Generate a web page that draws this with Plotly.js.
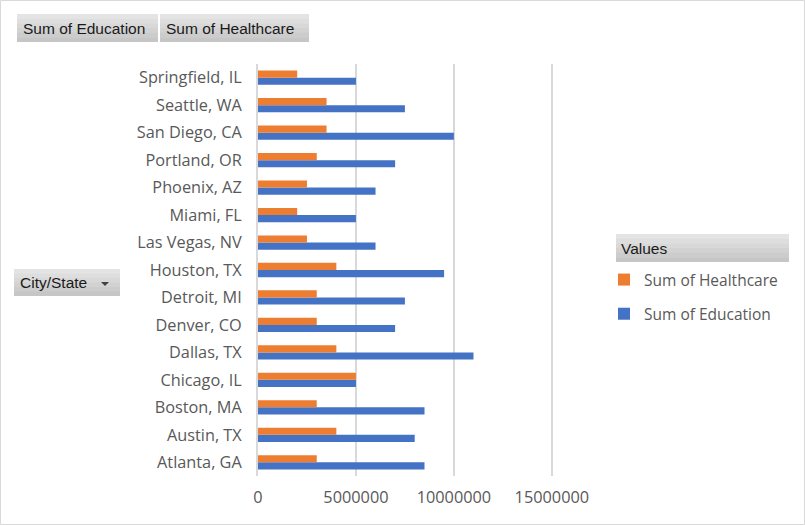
<!DOCTYPE html>
<html>
<head>
<meta charset="utf-8">
<script src="https://cdn.plot.ly/plotly-3.0.1.min.js"></script>
<style>html,body{margin:0;padding:0;background:#fff;}#chart{width:805px;height:525px;}</style>
</head>
<body>
<div id="chart"></div>
<script>
const cities = ["Atlanta, GA","Austin, TX","Boston, MA","Chicago, IL","Dallas, TX","Denver, CO","Detroit, MI","Houston, TX","Las Vegas, NV","Miami, FL","Phoenix, AZ","Portland, OR","San Diego, CA","Seattle, WA","Springfield, IL"];
const education = [8500000,8000000,8500000,5000000,11000000,7000000,7500000,9500000,6000000,5000000,6000000,7000000,10000000,7500000,5000000];
const healthcare = [3000000,4000000,3000000,5000000,4000000,3000000,3000000,4000000,2500000,2000000,2500000,3000000,3500000,3500000,2000000];
const xTicks = [0,5000000,10000000,15000000];
const xTickText = ["0","5000000","10000000","15000000"];

const W = 805, H = 525;
const M = {l:258, r:252, t:64, b:49, autoexpand:false};
const PW = W - M.l - M.r, PH = H - M.t - M.b;
const fx = px => (px - M.l) / PW;
const fy = py => 1 - (py - M.t) / PH;
const FONT = "Open Sans, Liberation Sans, Arial, sans-serif";
const BFONT = "Liberation Sans, Arial, sans-serif";

const shapes = [];
const annotations = [];
function button(x0, y0, x1, y1, text, tx) {
  const bands = ["#e4e4e4","#dedede","#d8d8d8","#d2d2d2","#cccccc","#c6c6c6"];
  const h = (y1 - y0) / bands.length;
  bands.forEach((c, i) => {
    shapes.push({type:"rect", xref:"paper", yref:"paper", layer:"above",
      x0:fx(x0), x1:fx(x1), y0:fy(y0 + i*h), y1:fy(Math.min(y1, y0 + (i+1)*h + 0.5)),
      fillcolor:c, line:{width:0}});
  });
  annotations.push({xref:"paper", yref:"paper", x:fx(tx), y:fy((y0+y1)/2),
    xanchor:"left", yanchor:"middle", showarrow:false, text:text,
    font:{family:BFONT, size:15.5, color:"#1a1a1a"}});
}
button(17, 14, 158, 42, "Sum of Education", 21);
button(160, 14, 309, 42, "Sum of Healthcare", 164);
button(14, 269, 120, 296, "City/State", 18);
button(616, 234, 789, 262, "Values", 619);
// dropdown arrow
shapes.push({type:"path", xref:"paper", yref:"paper", layer:"above",
  path:`M ${fx(101)} ${fy(282)} L ${fx(109)} ${fy(282)} L ${fx(105)} ${fy(286)} Z`,
  fillcolor:"#404040", line:{width:0}});
// outer border
shapes.push({type:"rect", xref:"paper", yref:"paper", layer:"below",
  x0:fx(0.5), x1:fx(804.5), y0:fy(0.5), y1:fy(524.5),
  line:{color:"#d9d9d9", width:1}, fillcolor:"rgba(0,0,0,0)"});

const data = [
  {type:"bar", orientation:"h", name:"Sum of Education", y:cities, x:education,
   marker:{color:"#4472c4"}, legendgroup:"e", legendrank:2},
  {type:"bar", orientation:"h", name:"Sum of Healthcare", y:cities, x:healthcare,
   marker:{color:"#ed7d31"}, legendgroup:"h", legendrank:1}
];

const layout = {
  width:W, height:H, margin:M,
  paper_bgcolor:"#ffffff", plot_bgcolor:"#ffffff",
  barmode:"group", bargap:0.48, bargroupgap:0,
  font:{family:FONT, color:"#595959", size:15},
  xaxis:{range:[0,15060000], tickvals:xTicks, ticktext:xTickText,
    showgrid:true, gridcolor:"#d9d9d9", gridwidth:2, zeroline:false,
    showline:false, ticks:"", ticklabelstandoff:10, fixedrange:true,
    tickfont:{family:FONT, size:16.3, color:"#595959"}},
  yaxis:{type:"category", categoryarray:cities, showgrid:false, zeroline:false,
    showline:true, linecolor:"#d9d9d9", linewidth:2, ticks:"", ticklabelstandoff:11,
    tickfont:{family:FONT, size:16.3, color:"#595959"}},
  showlegend:true,
  legend:{x:fx(604), y:fy(263), xanchor:"left", yanchor:"top",
    traceorder:"grouped", tracegroupgap:11,
    font:{family:FONT, size:15.5, color:"#595959"}, bgcolor:"rgba(0,0,0,0)", itemwidth:30},
  shapes:shapes, annotations:annotations
};
Plotly.newPlot("chart", data, layout, {displayModeBar:false, staticPlot:true});
</script>
</body>
</html>
